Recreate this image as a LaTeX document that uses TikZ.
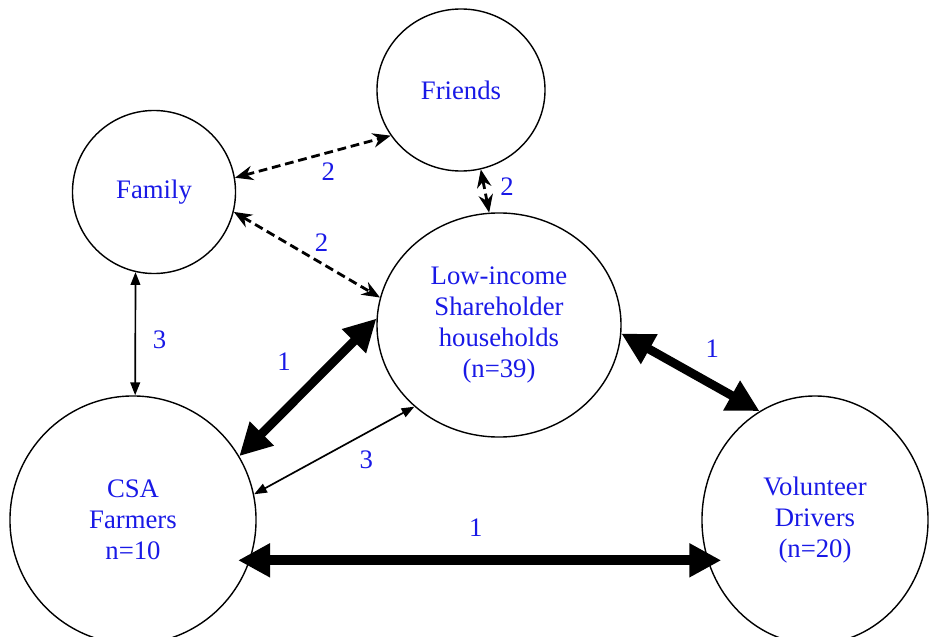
\documentclass[tikz,border=0pt]{standalone}
\usepackage{fontspec}
\setmainfont{Liberation Serif}
\usetikzlibrary{shapes.geometric}
\usetikzlibrary{arrows.meta}
\definecolor{labelblue}{RGB}{25,25,230}

\begin{document}
\begin{tikzpicture}[x=0.025cm, y=-0.025cm, every node/.style={font=\fontsize{19}{22}\selectfont, text=labelblue},
	actor/.style={draw=black, ellipse, line width=1pt, align=center, inner sep=0pt},
	strong/.style={line width=0.22cm, {Triangle[length=0.8cm,width=0.8cm]}-{Triangle[length=0.8cm,width=0.8cm]}},
	weak/.style={line width=1.2pt, {Triangle[length=0.32cm,width=0.24cm]}-{Triangle[length=0.32cm,width=0.24cm]}},
	informal/.style={line width=2pt, dash pattern=on 0.22cm off 0.12cm, {Stealth[length=0.45cm,width=0.36cm]}-{Stealth[length=0.45cm,width=0.36cm]}}]
	\useasboundingbox (0,0) rectangle (929,637);
	\node at (461,90) (friends) [actor, minimum width=4.2cm, minimum height=4.05cm] {Friends};
	\node at (154,192) (family) [actor, minimum width=4.075cm, minimum height=4.075cm] {Family};
	\node at (499,325) (lowincome) [actor, minimum width=6.1cm, minimum height=5.6cm] {Low-income\\Shareholder\\households\\(n=39)};
	\node at (133,520) (csa) [actor, minimum width=6.15cm, minimum height=6.2cm] {CSA\\Farmers\\n=10};
	\node at (815,520) (volunteer) [actor, minimum width=5.65cm, minimum height=6.2cm] {Volunteer\\Drivers\\(n=20)};
	\draw [informal] (family.10) -- node [pos=0.6, below=0.1cm] {2} (friends.213);
	\draw [informal] (family.-14) -- node [pos=0.6, above=0.15cm] {2} (lowincome.167);
	\draw [informal] (friends.-76) -- node [pos=0.4, right=0.25cm] {2} (lowincome.95);
	\draw [weak] (family.-103.5) -- node [pos=0.55, right=0.3cm] {3} (csa.89);
	\draw [strong] (csa.31) -- node [pos=0.5, above left=0.2cm] {1} (lowincome.177.6);
	\draw [weak] (csa.12) -- node [pos=0.7, below=0.3cm] {3} (lowincome.224);
	\draw [strong] (lowincome.-4) -- node [pos=0.5, above right=0.15cm] {1} (volunteer.117);
	\draw [strong, line width=0.25cm, shorten <=-0.3cm, shorten >=-0.5cm] (csa.-19) -- node [pos=0.5, above=0.35cm] {1} (csa.-19 -| volunteer.west);
\end{tikzpicture}
\end{document}
